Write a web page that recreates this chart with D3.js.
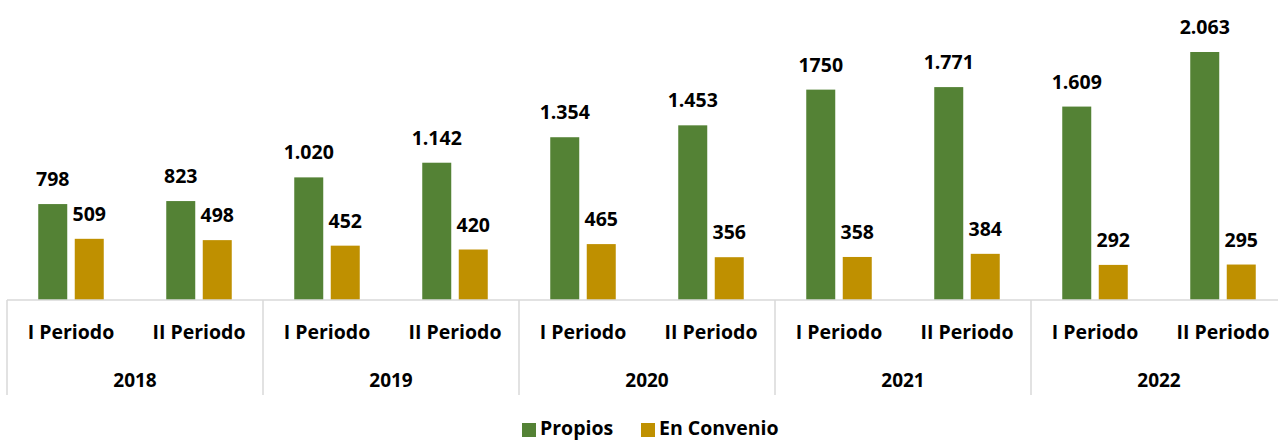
<!DOCTYPE html>
<html><head><meta charset="utf-8">
<script src="https://cdn.jsdelivr.net/npm/d3@7"></script>
<style>body{margin:0;background:#fff}svg{display:block}text{font-family:"Open Sans",Lato,sans-serif;font-weight:bold;fill:#000}</style>
</head><body><svg id="c" width="1278" height="440"></svg>
<script>
const years = ["2018","2019","2020","2021","2022"];
const periods = ["I Periodo","II Periodo"];
const propios = [798,823,1020,1142,1354,1453,1750,1771,1609,2063];
const propiosLabels = ["798","823","1.020","1.142","1.354","1.453","1750","1.771","1.609","2.063"];
const convenio = [509,498,452,420,465,356,358,384,292,295];
const convenioLabels = ["509","498","452","420","465","356","358","384","292","295"];
const seriesNames = ["Propios","En Convenio"];
const colors = ["#548235","#BF9000"];

const svg = d3.select("#c");
const left = 7, right = 1287, base = 300;
const cats = [];
years.forEach(y => periods.forEach(p => cats.push(y + "|" + p)));
const x = d3.scaleBand().domain(cats).range([left, right]).paddingInner(0).paddingOuter(0);
const y = d3.scaleLinear().domain([0, 2063]).range([base, 52]);
const barW = 29, gap = 7.5;

const data = cats.map((c,i) => ({c, p: propios[i], pl: propiosLabels[i], e: convenio[i], el: convenioLabels[i]}));
const g = svg.append("g");
data.forEach(d => {
  const cx = x(d.c) + x.bandwidth()/2;
  const x1 = cx - gap/2 - barW, x2 = cx + gap/2;
  g.append("rect").attr("x", x1).attr("y", y(d.p)).attr("width", barW).attr("height", base - y(d.p)).attr("fill", colors[0]);
  g.append("rect").attr("x", x2).attr("y", y(d.e)).attr("width", barW).attr("height", base - y(d.e)).attr("fill", colors[1]);
  g.append("text").attr("x", x1 + barW/2).attr("y", y(d.p) - 18).attr("text-anchor","middle").style("font-size","19.5px").text(d.pl);
  g.append("text").attr("x", x2 + barW/2).attr("y", y(d.e) - 18).attr("text-anchor","middle").style("font-size","19.5px").text(d.el);
});

// axis
svg.append("line").attr("x1", left).attr("x2", 1278).attr("y1", base).attr("y2", base).attr("stroke","#d9d9d9").attr("stroke-width",1.5);
const yearW = x.bandwidth()*2;
years.forEach((yr,i) => {
  const xs = left + i*yearW;
  svg.append("line").attr("x1", xs).attr("x2", xs).attr("y1", base).attr("y2", 395).attr("stroke","#d9d9d9").attr("stroke-width",1.5);
  svg.append("text").attr("x", xs + yearW/2).attr("y", 387).attr("text-anchor","middle").style("font-size","19px").text(yr);
});
cats.forEach(c => {
  svg.append("text").attr("x", x(c) + x.bandwidth()/2).attr("y", 339).attr("text-anchor","middle").style("font-size","19.5px").text(c.split("|")[1]);
});

// legend
const leg = svg.append("g");
const legX = [522, 641];
seriesNames.forEach((s,i) => {
  leg.append("rect").attr("x", legX[i]).attr("y", 423).attr("width", 14).attr("height", 14).attr("fill", colors[i]);
  leg.append("text").attr("x", legX[i] + 18).attr("y", 435).style("font-size","19.5px").text(s);
});
</script></body></html>
